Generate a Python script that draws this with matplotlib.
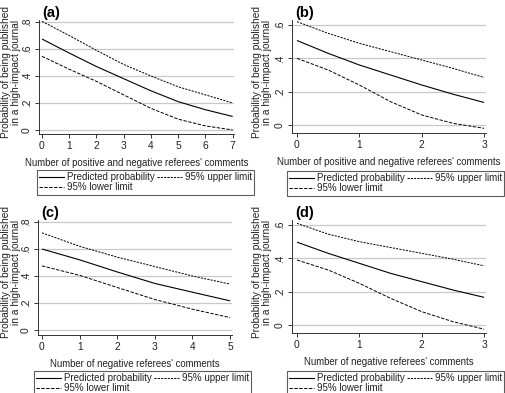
import matplotlib
matplotlib.use("Agg")
import matplotlib.pyplot as plt
from matplotlib.lines import Line2D

plt.rcParams['font.family'] = ['Liberation Sans', 'DejaVu Sans']

# panel (a): positive and negative comments, 0..7
xa = [0, 1, 2, 3, 4, 5, 6, 7]
pred_a = [0.674, 0.57, 0.47, 0.38, 0.29, 0.21, 0.15, 0.10]
upper_a = [0.805, 0.70, 0.59, 0.485, 0.40, 0.32, 0.26, 0.20]
lower_a = [0.546, 0.45, 0.36, 0.26, 0.16, 0.08, 0.03, 0.00]

# panel (b): positive and negative comments, 0..3
xb = [0, 0.5, 1, 1.5, 2, 2.5, 3]
pred_b = [0.507, 0.43, 0.36, 0.30, 0.24, 0.185, 0.135]
upper_b = [0.62, 0.55, 0.49, 0.44, 0.39, 0.34, 0.285]
lower_b = [0.40, 0.33, 0.24, 0.14, 0.06, 0.01, -0.02]

# panel (c): negative comments, 0..5
xc = [0, 1, 2, 3, 4, 5]
pred_c = [0.60, 0.52, 0.43, 0.345, 0.28, 0.216]
upper_c = [0.72, 0.62, 0.54, 0.47, 0.40, 0.34]
lower_c = [0.475, 0.405, 0.315, 0.226, 0.154, 0.092]

# panel (d): negative comments, 0..3
xd = [0, 0.5, 1, 1.5, 2, 2.5, 3]
pred_d = [0.497, 0.43, 0.37, 0.31, 0.26, 0.21, 0.166]
upper_d = [0.61, 0.545, 0.50, 0.465, 0.43, 0.395, 0.355]
lower_d = [0.39, 0.33, 0.25, 0.16, 0.08, 0.02, -0.025]

ylabel = "Probability of being published\nin a high-impact journal"
xlab_ab = "Number of positive and negative referees' comments"
xlab_cd = "Number of negative referees' comments"

W, H = 506, 393
fig = plt.figure(figsize=(W / 100, H / 100), dpi=100)

FS = 6.9
TXT = '#222222'


def panel(px_box, xlim, ylim, xticks, yticks, yticklabels, x, pred, up, lo,
          letter, xlabel, leg_box, ylab_xy):
    l, r, t, b = px_box
    ax = fig.add_axes([l / W, 1 - b / H, (r - l) / W, (b - t) / H])
    for yv in yticks:
        ax.axhline(yv, color='#c8c8c8', lw=0.9, zorder=0)
    ax.plot(x, pred, color='black', lw=0.8, solid_capstyle='butt')
    ax.plot(x, up, color='black', lw=0.7, dashes=(2.2, 1.2))
    ax.plot(x, lo, color='black', lw=0.7, dashes=(3.5, 1.5))
    ax.set_xlim(*xlim)
    ax.set_ylim(*ylim)
    ax.set_xticks(xticks)
    ax.set_yticks(yticks)
    ax.set_yticklabels(yticklabels, rotation=90, va='center')
    for s in ['top', 'right']:
        ax.spines[s].set_visible(False)
    for s in ['left', 'bottom']:
        ax.spines[s].set_linewidth(0.7)
        ax.spines[s].set_color('#333333')
    ax.tick_params(length=3, width=0.7, colors='#333333', labelsize=7.4,
                   labelcolor=TXT, pad=2)
    ax.set_xlabel(xlabel, fontsize=FS, color=TXT, labelpad=5)
    fig.text((l + 3) / W, 1 - (t - 7) / H, letter, fontsize=10.5,
             fontweight='bold', va='center', ha='left')
    fig.text(ylab_xy[0] / W, 1 - ylab_xy[1] / H, ylabel, rotation=90,
             fontsize=7.3, color=TXT, ha='center', va='center',
             multialignment='center', linespacing=1.05)
    handles = [Line2D([], [], color='black', lw=0.8),
               Line2D([], [], color='black', lw=0.7, dashes=(3.5, 1.5)),
               Line2D([], [], color='black', lw=0.7, dashes=(2.2, 1.2))]
    labels = ['Predicted probability', '95% lower limit', '95% upper limit']
    lx0, lx1, ly0 = leg_box
    leg = fig.legend(handles, labels, loc='upper right', ncol=2,
                     bbox_to_anchor=(lx1 / W, 1 - ly0 / H),
                     fontsize=7.05, frameon=True, fancybox=False,
                     edgecolor='#333333', handlelength=2.5, handletextpad=0.3,
                     columnspacing=0.3, borderpad=0.22, labelspacing=0.02,
                     borderaxespad=0)
    leg.get_frame().set_linewidth(0.8)
    for txt in leg.get_texts():
        txt.set_color(TXT)
    return ax


panel((39, 234, 20, 134), (-0.11, 7.05), (-0.03, 0.815), range(8),
      [0, 0.2, 0.4, 0.6, 0.8], ['0', '.2', '.4', '.6', '.8'],
      xa, pred_a, upper_a, lower_a, '(a)', xlab_ab, (34, 254, 170), (11, 72))

panel((292, 486, 20, 133), (-0.08, 3.03), (-0.048, 0.63), range(4),
      [0, 0.2, 0.4, 0.6], ['0', '.2', '.4', '.6'],
      xb, pred_b, upper_b, lower_b, '(b)', xlab_ab, (284, 504, 171), (262, 72))

panel((38, 232, 220, 335), (-0.106, 5.05), (-0.037, 0.815), range(6),
      [0, 0.2, 0.4, 0.6, 0.8], ['0', '.2', '.4', '.6', '.8'],
      xc, pred_c, upper_c, lower_c, '(c)', xlab_cd, (34, 251, 371), (11, 272))

panel((292, 486, 220, 333), (-0.08, 3.03), (-0.048, 0.63), range(4),
      [0, 0.2, 0.4, 0.6], ['0', '.2', '.4', '.6'],
      xd, pred_d, upper_d, lower_d, '(d)', xlab_cd, (284, 504, 371), (262, 272))

fig.savefig('out.png', dpi=100)
